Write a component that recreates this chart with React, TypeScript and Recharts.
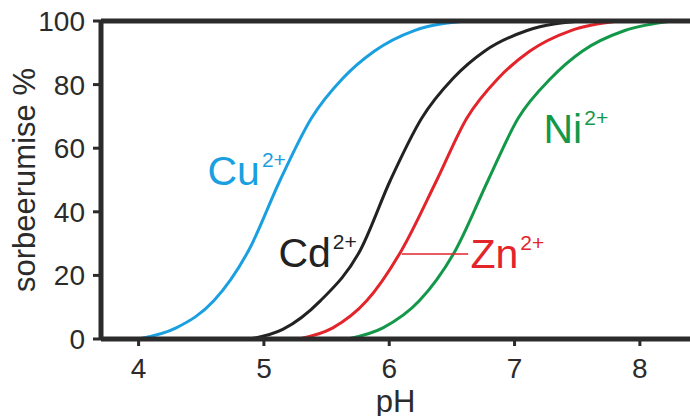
import {
  LineChart,
  Line,
  XAxis,
  YAxis,
  ReferenceLine,
  ReferenceDot,
  Label,
} from 'recharts'

// pH values and sorption (%)
const cuPH = [4.0, 4.3, 4.6, 4.88, 5.13, 5.38, 5.63, 5.88, 6.2, 6.62]
const cuSorb = [0, 3.5, 12, 28, 50, 69.5, 82, 90.5, 97, 100]

const cdPH = [4.89, 5.15, 5.45, 5.77, 6.01, 6.26, 6.51, 6.76, 7.1, 7.53]
const cdSorb = [0, 3, 12, 28, 50, 69.5, 82, 90.5, 97, 100]

const znPH = [5.28, 5.55, 5.82, 6.1, 6.38, 6.62, 6.87, 7.12, 7.45, 7.83]
const znSorb = [0, 3.5, 12, 28, 50, 69.5, 82, 90.5, 97, 100]

const niPH = [5.67, 5.95, 6.24, 6.53, 6.79, 7.03, 7.29, 7.54, 7.88, 8.26]
const niSorb = [0, 3.5, 12, 28, 50, 69.5, 82, 90.5, 97, 100]

const xTicks = [4, 5, 6, 7, 8]
const yTicks = [0, 20, 40, 60, 80, 100]

const FONT = '"Liberation Sans", Arial, sans-serif'
const AXIS = '#2b2b2b'

const toRows = (ph: number[], v: number[]) => ph.map((p, i) => ({ ph: p, v: v[i] }))

const SERIES = [
  { name: 'Cu', color: '#1a9fe0', data: toRows(cuPH, cuSorb), lx: 4.55, ly: 48.4 },
  { name: 'Cd', color: '#222222', data: toRows(cdPH, cdSorb), lx: 5.116, ly: 22.7 },
  { name: 'Zn', color: '#e3242b', data: toRows(znPH, znSorb), lx: 6.648, ly: 22.3 },
  { name: 'Ni', color: '#13984a', data: toRows(niPH, niSorb), lx: 7.231, ly: 61.7 },
]

function IonLabel(props: any) {
  const { viewBox, ion, color } = props
  const x = viewBox.x + (viewBox.width || 0) / 2
  const y = viewBox.y + (viewBox.height || 0) / 2
  return (
    <text x={x} y={y} fill={color} fontSize={41} fontFamily={FONT}>
      {ion}
      <tspan dx={2} dy={-18} fontSize={21}>
        2+
      </tspan>
    </text>
  )
}

export default function App() {
  return (
    <div style={{ position: 'absolute', left: 0, top: 0, background: '#fff' }}>
      <LineChart
        width={690}
        height={416}
        margin={{ top: 21, right: 0, bottom: 0, left: 31 }}
      >
        <XAxis
          type="number"
          dataKey="ph"
          domain={[3.7, 8.4]}
          ticks={xTicks}
          allowDataOverflow
          height={77}
          tickSize={7}
          tickMargin={12}
          axisLine={{ stroke: AXIS, strokeWidth: 5 }}
          tickLine={{ stroke: AXIS, strokeWidth: 3 }}
          tick={{ fontSize: 28, fill: AXIS, fontFamily: FONT }}
        >
          <Label
            content={(p: any) => (
              <text
                x={p.viewBox.x + p.viewBox.width / 2}
                y={p.viewBox.y + 73}
                textAnchor="middle"
                fontSize={31}
                fill={AXIS}
                fontFamily={FONT}
              >
                pH
              </text>
            )}
          />
        </XAxis>
        <YAxis
          type="number"
          domain={[0, 100]}
          ticks={yTicks}
          width={70}
          tickSize={8}
          tickMargin={8}
          axisLine={{ stroke: AXIS, strokeWidth: 5 }}
          tickLine={{ stroke: AXIS, strokeWidth: 3 }}
          tick={{ fontSize: 28, fill: AXIS, fontFamily: FONT }}
        >
          <Label
            content={(p: any) => {
              const cx = p.viewBox.x + 4
              const cy = p.viewBox.y + p.viewBox.height / 2
              return (
                <text
                  x={cx}
                  y={cy}
                  transform={`rotate(-90 ${cx} ${cy})`}
                  textAnchor="middle"
                  fontSize={31}
                  fill={AXIS}
                  fontFamily={FONT}
                >
                  sorbeerumise %
                </text>
              )
            }}
          />
        </YAxis>
        {SERIES.map((s) => (
          <Line
            key={s.name}
            data={s.data}
            dataKey="v"
            type="monotone"
            stroke={s.color}
            strokeWidth={3}
            dot={false}
            isAnimationActive={false}
          />
        ))}
        <ReferenceLine y={100} stroke={AXIS} strokeWidth={5} />
        <ReferenceLine
          segment={[
            { x: 6.1, y: 26.7 },
            { x: 6.63, y: 26.7 },
          ]}
          stroke="#e3242b"
          strokeWidth={1.5}
        />
        {SERIES.map((s) => (
          <ReferenceDot
            key={s.name + '-label'}
            x={s.lx}
            y={s.ly}
            r={0}
            fill="none"
            stroke="none"
            label={<IonLabel ion={s.name} color={s.color} />}
          />
        ))}
      </LineChart>
    </div>
  )
}
